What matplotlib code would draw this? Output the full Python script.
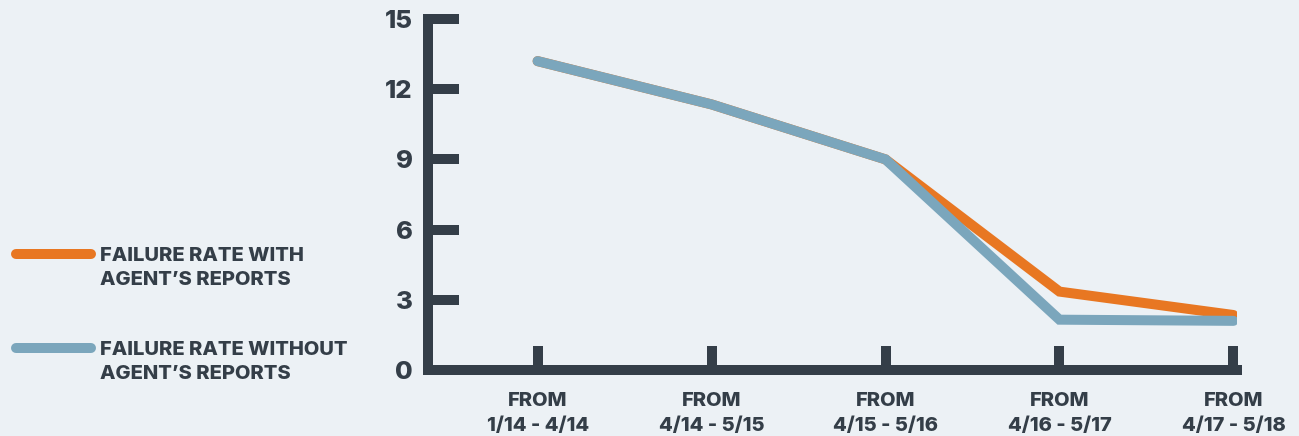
import numpy as np
import matplotlib.pyplot as plt

# data
periods = ['FROM\n1/14 - 4/14', 'FROM\n4/14 - 5/15', 'FROM\n4/15 - 5/16',
           'FROM\n4/16 - 5/17', 'FROM\n4/17 - 5/18']
with_reports = [13.2, 11.35, 9.0, 3.35, 2.35]
without_reports = [13.2, 11.35, 9.0, 2.15, 2.1]
yticks = [0, 3, 6, 9, 12, 15]

bg = '#ECF1F5'
dark = '#343E48'
orange = '#E87722'
blue = '#7BA6BC'

plt.rcParams['font.family'] = ['Inter', 'DejaVu Sans']
plt.rcParams['font.weight'] = 'heavy'

fig = plt.figure(figsize=(12.99, 4.36), dpi=100, facecolor=bg)
ax = fig.add_axes([0.3295, 0.1514, 0.6227, 0.805])
ax.set_facecolor(bg)

x = np.arange(len(periods))
ax.plot(x, with_reports, color=orange, lw=7.2, solid_capstyle='round',
        solid_joinstyle='miter', label='FAILURE RATE WITH\nAGENT\u2019S REPORTS', zorder=3)
ax.plot(x, without_reports, color=blue, lw=7.2, solid_capstyle='round',
        solid_joinstyle='miter', label='FAILURE RATE WITHOUT\nAGENT\u2019S REPORTS', zorder=4)

ax.set_xlim(-0.63, 4.02)
ax.set_ylim(0, 15)
ax.set_xticks(x)
ax.set_xticklabels(periods, fontsize=14.5, color=dark, fontweight='heavy',
                   linespacing=1.45)
ax.set_yticks(yticks)
ax.set_yticklabels([str(v) for v in yticks], fontsize=18.5, color=dark,
                   fontweight='heavy')

for s in ['top', 'right']:
    ax.spines[s].set_visible(False)
for s in ['left', 'bottom']:
    ax.spines[s].set_linewidth(7.2)
    ax.spines[s].set_color(dark)
    ax.spines[s].set_capstyle('projecting')

ax.tick_params(axis='y', direction='in', length=22, width=7.2, color=dark, pad=11)
ax.tick_params(axis='x', direction='in', length=17, width=7.2, color=dark, pad=16)

leg = ax.legend(loc='upper left', bbox_to_anchor=(-0.002, 0.475),
                bbox_transform=fig.transFigure, frameon=False,
                handlelength=3.75, handletextpad=0.42, labelspacing=2.55,
                prop={'size': 14.5, 'weight': 'heavy'})
for t in leg.get_texts():
    t.set_color(dark)
    t.set_linespacing(1.45)
# put each legend key level with the first line of its label
for h in leg.legend_handles:
    h.set_ydata(np.asarray(h.get_ydata()) + 10)

fig.savefig('out.png', dpi=100, facecolor=bg)
